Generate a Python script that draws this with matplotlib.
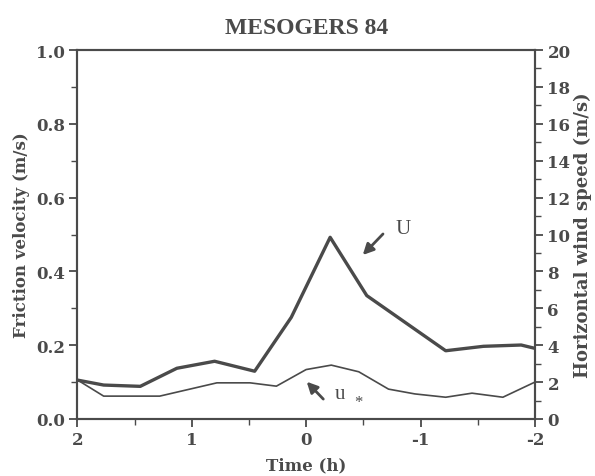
import matplotlib
matplotlib.use('Agg')
import matplotlib.pyplot as plt
from matplotlib.ticker import MultipleLocator

# time (h) and wind speed U (m/s), right axis
time_U = [2.0, 1.77, 1.45, 1.13, 0.80, 0.45, 0.13, -0.21, -0.53, -1.22, -1.55, -1.88, -2.0]
U = [2.11, 1.84, 1.77, 2.75, 3.13, 2.59, 5.51, 9.85, 6.69, 3.70, 3.94, 4.01, 3.83]

# time (h) and friction velocity u* (m/s), left axis
time_us = [2.0, 1.77, 1.28, 0.78, 0.49, 0.26, 0.0, -0.22, -0.46, -0.72, -0.95, -1.22, -1.45, -1.72, -2.0]
u_star = [0.106, 0.062, 0.062, 0.098, 0.098, 0.089, 0.134, 0.146, 0.128, 0.081, 0.068, 0.059, 0.070, 0.059, 0.100]

x_ticks = [2, 1, 0, -1, -2]
x_ticklabels = ['2', '1', '0', '-1', '-2']

ink = '#4a4a4a'
tick_font = dict(family='DejaVu Serif', weight='bold', size=12)
label_font = 'DejaVu Serif'

fig = plt.figure(figsize=(5.95, 4.77), dpi=100)
ax = fig.add_axes([0.130, 0.1195, 0.769, 0.7735])
ax2 = ax.twinx()

ax.plot(time_us, u_star, color=ink, lw=1.2)
ax2.plot(time_U, U, color=ink, lw=2.4)

ax.set_xlim(2, -2)
ax.set_ylim(0, 1.0)
ax2.set_ylim(0, 20)

ax.set_xticks(x_ticks)
ax.set_xticklabels(x_ticklabels)
ax.xaxis.set_minor_locator(MultipleLocator(0.5))
ax.yaxis.set_major_locator(MultipleLocator(0.2))
ax.yaxis.set_minor_locator(MultipleLocator(0.1))
ax.yaxis.set_major_formatter(matplotlib.ticker.FormatStrFormatter('%.1f'))
ax2.yaxis.set_major_locator(MultipleLocator(2))
ax2.yaxis.set_minor_locator(MultipleLocator(1))

for a in (ax, ax2):
    a.tick_params(which='major', direction='out', length=6, width=1.3, color=ink, labelcolor=ink, pad=3)
    a.tick_params(which='minor', direction='out', length=4, width=1.0, color=ink)
    for sp in a.spines.values():
        sp.set_color(ink)
        sp.set_linewidth(1.5)
    for lab in a.get_xticklabels() + a.get_yticklabels():
        lab.set_fontproperties(matplotlib.font_manager.FontProperties(**tick_font))

ax.set_ylabel('Friction velocity (m/s)', family=label_font, weight='bold', size=12, color=ink, labelpad=4)
ax2.set_ylabel('Horizontal wind speed (m/s)', family=label_font, weight='bold', size=13, color=ink, labelpad=2)
ax.set_xlabel('Time (h)', family=label_font, weight='bold', size=12, color=ink, labelpad=6)
ax.set_title('MESOGERS 84', family='Liberation Serif', weight='bold', size=17, color=ink, pad=12)

arrow = dict(arrowstyle='-|>', lw=2, color=ink, mutation_scale=16, shrinkA=0, shrinkB=0)
ax2.annotate('', xy=(-0.495, 8.89), xytext=(-0.672, 10.03), arrowprops=arrow)
ax2.text(-0.85, 10.3, 'U', family='Liberation Serif', size=15, color=ink, ha='center', va='center')
ax.annotate('', xy=(-0.005, 0.101), xytext=(-0.15, 0.054), arrowprops=arrow)
ax.text(-0.296, 0.068, 'u', family='Liberation Serif', size=15, color=ink, ha='center', va='center')
ax.text(-0.455, 0.046, '*', family='Liberation Serif', size=12, color=ink, ha='center', va='center')

fig.savefig('out.png', dpi=100)
